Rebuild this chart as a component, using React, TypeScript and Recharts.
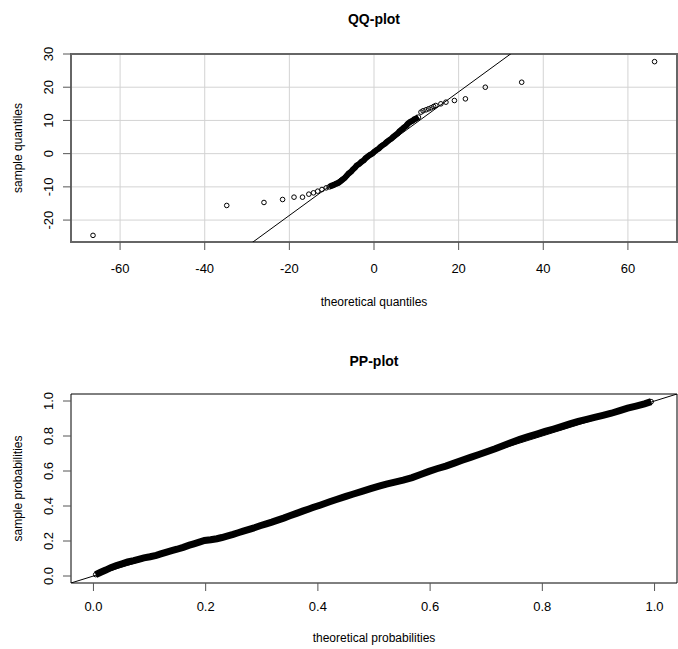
import React from 'react';
import {
  ScatterChart, Scatter, XAxis, YAxis, CartesianGrid, ReferenceLine, ReferenceArea,
} from 'recharts';

const FONT = '"Liberation Sans", Arial, sans-serif';

// QQ-plot: theoretical vs sample quantiles
const qqTicksX = [-60, -40, -20, 0, 20, 40, 60];
const qqTicksY = [-20, -10, 0, 10, 20, 30];
const qqDomainX = [-71.6, 71.6];
const qqDomainY = [-26.6, 30];
const qqLineSlope = 0.93;

const qqLowTailX = [-66.4, -34.8, -26.0, -21.6, -18.9, -16.9, -15.4, -14.3, -13.3, -12.3, -11.3];
const qqLowTailY = [-24.6, -15.6, -14.7, -13.8, -13.1, -13.1, -12.2, -11.8, -11.3, -10.8, -10.3];

const qqCoreX = [-10.6, -10.1, -9.5, -9.0, -8.4, -8.0, -7.5, -6.9, -6.5, -6.0, -5.4, -5.0, -4.5, -4.1, -3.5, -3.0, -2.4, -2.0, -1.5, -1.0, -0.4, 0.0, 0.5, 1.1, 1.5, 2.0, 2.6, 3.0, 3.5, 4.1, 4.5, 5.0, 5.6, 6.0, 6.5, 7.0, 7.6, 8.0, 8.5, 9.1, 9.5, 10.0, 10.5];
const qqCoreY = [-10.0, -9.7, -9.4, -9.1, -8.8, -8.4, -7.9, -7.3, -6.7, -6.0, -5.4, -4.8, -4.2, -3.6, -3.1, -2.5, -2.0, -1.4, -0.9, -0.4, 0.0, 0.5, 1.0, 1.5, 2.0, 2.5, 3.0, 3.5, 4.0, 4.5, 5.0, 5.5, 6.1, 6.7, 7.2, 7.8, 8.4, 9.0, 9.5, 9.9, 10.3, 10.6, 11.0];

const qqHighTailX = [11.1, 11.6, 12.3, 12.9, 13.5, 14.1, 14.6, 15.8, 17.0, 19.0, 21.6, 26.3, 34.9, 66.3];
const qqHighTailY = [12.5, 12.9, 13.2, 13.5, 13.8, 14.2, 14.5, 15.0, 15.5, 16.0, 16.5, 20.0, 21.5, 27.7];

// PP-plot: theoretical vs sample probabilities
const ppTicks = [0, 0.2, 0.4, 0.6, 0.8, 1];
const ppDomain = [-0.04, 1.04];

const ppTheoretical = [
  0.004, 0.012, 0.022, 0.031, 0.041, 0.051, 0.061, 0.072, 0.082, 0.090,
  0.101, 0.112, 0.120, 0.132, 0.141, 0.149, 0.160, 0.171, 0.179, 0.190,
  0.198, 0.209, 0.220, 0.229, 0.238, 0.249, 0.258, 0.267, 0.279, 0.288,
  0.297, 0.308, 0.318, 0.327, 0.339, 0.350, 0.362, 0.374, 0.384, 0.391,
  0.405, 0.421, 0.433, 0.450, 0.462, 0.480, 0.494, 0.509, 0.522, 0.539,
  0.552, 0.568, 0.583, 0.598, 0.612, 0.628, 0.643, 0.657, 0.672, 0.687,
  0.701, 0.716, 0.731, 0.746, 0.760, 0.775, 0.790, 0.805, 0.820, 0.834,
  0.849, 0.864, 0.879, 0.893, 0.908, 0.923, 0.938, 0.952, 0.967, 0.982,
  0.994,
];
const ppSample = [
  0.008, 0.020, 0.034, 0.048, 0.060, 0.070, 0.080, 0.088, 0.097, 0.104,
  0.110, 0.118, 0.126, 0.138, 0.146, 0.153, 0.164, 0.176, 0.184, 0.195,
  0.203, 0.207, 0.213, 0.220, 0.228, 0.238, 0.247, 0.256, 0.268, 0.277,
  0.287, 0.298, 0.308, 0.318, 0.331, 0.344, 0.358, 0.372, 0.383, 0.391,
  0.406, 0.424, 0.437, 0.455, 0.467, 0.485, 0.499, 0.513, 0.525, 0.538,
  0.548, 0.562, 0.580, 0.598, 0.613, 0.628, 0.645, 0.661, 0.678, 0.694,
  0.710, 0.727, 0.746, 0.764, 0.781, 0.797, 0.811, 0.826, 0.840, 0.854,
  0.869, 0.883, 0.895, 0.906, 0.918, 0.930, 0.945, 0.959, 0.971, 0.984,
  0.996,
];

const zip = (xs: number[], ys: number[]) => xs.map((x, i) => ({ x, y: ys[i] }));

const Ring = (p: any) => (
  <circle cx={p.cx} cy={p.cy} r={2.3} fill="none" stroke="#000" strokeWidth={1} />
);

const RotatedTick = ({ x, y, payload, digits }: any) => (
  <text
    transform={`translate(${x},${y}) rotate(-90)`}
    textAnchor="middle"
    fontSize={13}
    fontFamily={FONT}
    fill="#000"
  >
    {Number(payload.value).toFixed(digits)}
  </text>
);

const XTitle = ({ viewBox, text, dy }: any) => (
  <text
    x={viewBox.x + viewBox.width / 2}
    y={viewBox.y + dy}
    textAnchor="middle"
    dominantBaseline="central"
    fontSize={12}
    fontFamily={FONT}
    fill="#000"
  >
    {text}
  </text>
);

const YTitle = ({ viewBox, text }: any) => {
  const cx = viewBox.x + 17.5;
  const cy = viewBox.y + viewBox.height / 2;
  return (
    <text
      x={cx}
      y={cy}
      transform={`rotate(-90 ${cx} ${cy})`}
      textAnchor="middle"
      dominantBaseline="central"
      fontSize={12}
      fontFamily={FONT}
      fill="#000"
    >
      {text}
    </text>
  );
};

const titleStyle = (top: number): React.CSSProperties => ({
  position: 'absolute', top, left: 71, width: 606, textAlign: 'center',
  fontFamily: FONT, fontWeight: 'bold', fontSize: 14, lineHeight: '16px', color: '#000',
});

function QQPlot() {
  return (
    <ScatterChart width={678} height={325} margin={{ top: 54, right: 1, bottom: 0, left: 0 }}>
      <CartesianGrid stroke="#d3d3d3" strokeWidth={1} />
      <XAxis
        type="number" dataKey="x" domain={qqDomainX} ticks={qqTicksX} interval={0}
        allowDataOverflow height={83} axisLine={false} tickSize={8} tickMargin={14}
        tickLine={{ stroke: '#555' }}
        tick={{ fontSize: 13, fontFamily: FONT, fill: '#000' }}
        label={<XTitle text="theoretical quantiles" dy={60} />}
      />
      <YAxis
        type="number" dataKey="y" domain={qqDomainY} ticks={qqTicksY} interval={0}
        allowDataOverflow width={71} axisLine={false} tickSize={8} tickMargin={10}
        tickLine={{ stroke: '#555' }}
        tick={<RotatedTick digits={0} />}
        label={<YTitle text="sample quantiles" />}
      />
      <ReferenceArea
        x1={qqDomainX[0]} x2={qqDomainX[1]} y1={qqDomainY[0]} y2={qqDomainY[1]}
        fill="none" stroke="#666" strokeWidth={2} ifOverflow="visible"
      />
      <ReferenceLine
        segment={[{ x: -40, y: -40 * qqLineSlope }, { x: 40, y: 40 * qqLineSlope }]}
        stroke="#000" strokeWidth={1} ifOverflow="hidden"
      />
      <Scatter data={zip(qqLowTailX, qqLowTailY)} shape={Ring} isAnimationActive={false} />
      <Scatter
        data={zip(qqCoreX, qqCoreY)} shape={Ring} isAnimationActive={false}
        line={{ stroke: '#000', strokeWidth: 6 }}
      />
      <Scatter data={zip(qqHighTailX, qqHighTailY)} shape={Ring} isAnimationActive={false} />
    </ScatterChart>
  );
}

function PPPlot() {
  return (
    <ScatterChart width={678} height={324} margin={{ top: 69, right: 1, bottom: 0, left: 0 }}>
      <XAxis
        type="number" dataKey="x" domain={ppDomain} ticks={ppTicks} interval={0}
        allowDataOverflow height={66} axisLine={false} tickSize={8} tickMargin={11}
        tickLine={{ stroke: '#555' }}
        tickFormatter={(v: number) => v.toFixed(1)}
        tick={{ fontSize: 13, fontFamily: FONT, fill: '#000' }}
        label={<XTitle text="theoretical probabilities" dy={55} />}
      />
      <YAxis
        type="number" dataKey="y" domain={ppDomain} ticks={ppTicks} interval={0}
        allowDataOverflow width={71} axisLine={false} tickSize={8} tickMargin={10}
        tickLine={{ stroke: '#555' }}
        tick={<RotatedTick digits={1} />}
        label={<YTitle text="sample probabilities" />}
      />
      <ReferenceArea
        x1={ppDomain[0]} x2={ppDomain[1]} y1={ppDomain[0]} y2={ppDomain[1]}
        fill="none" stroke="#000" strokeWidth={1} ifOverflow="visible"
      />
      <ReferenceLine
        segment={[{ x: ppDomain[0], y: ppDomain[0] }, { x: ppDomain[1], y: ppDomain[1] }]}
        stroke="#000" strokeWidth={1} ifOverflow="hidden"
      />
      <Scatter
        data={zip(ppTheoretical, ppSample)} shape={Ring} isAnimationActive={false}
        line={{ stroke: '#000', strokeWidth: 7 }}
      />
    </ScatterChart>
  );
}

export default function App() {
  return (
    <div style={{ position: 'absolute', left: 0, top: 0, width: 678, height: 649, background: '#fff' }}>
      <div style={titleStyle(11)}>QQ-plot</div>
      <div style={{ position: 'absolute', top: 0, left: 0 }}>
        <QQPlot />
      </div>
      <div style={titleStyle(353)}>PP-plot</div>
      <div style={{ position: 'absolute', top: 325, left: 0 }}>
        <PPPlot />
      </div>
    </div>
  );
}
